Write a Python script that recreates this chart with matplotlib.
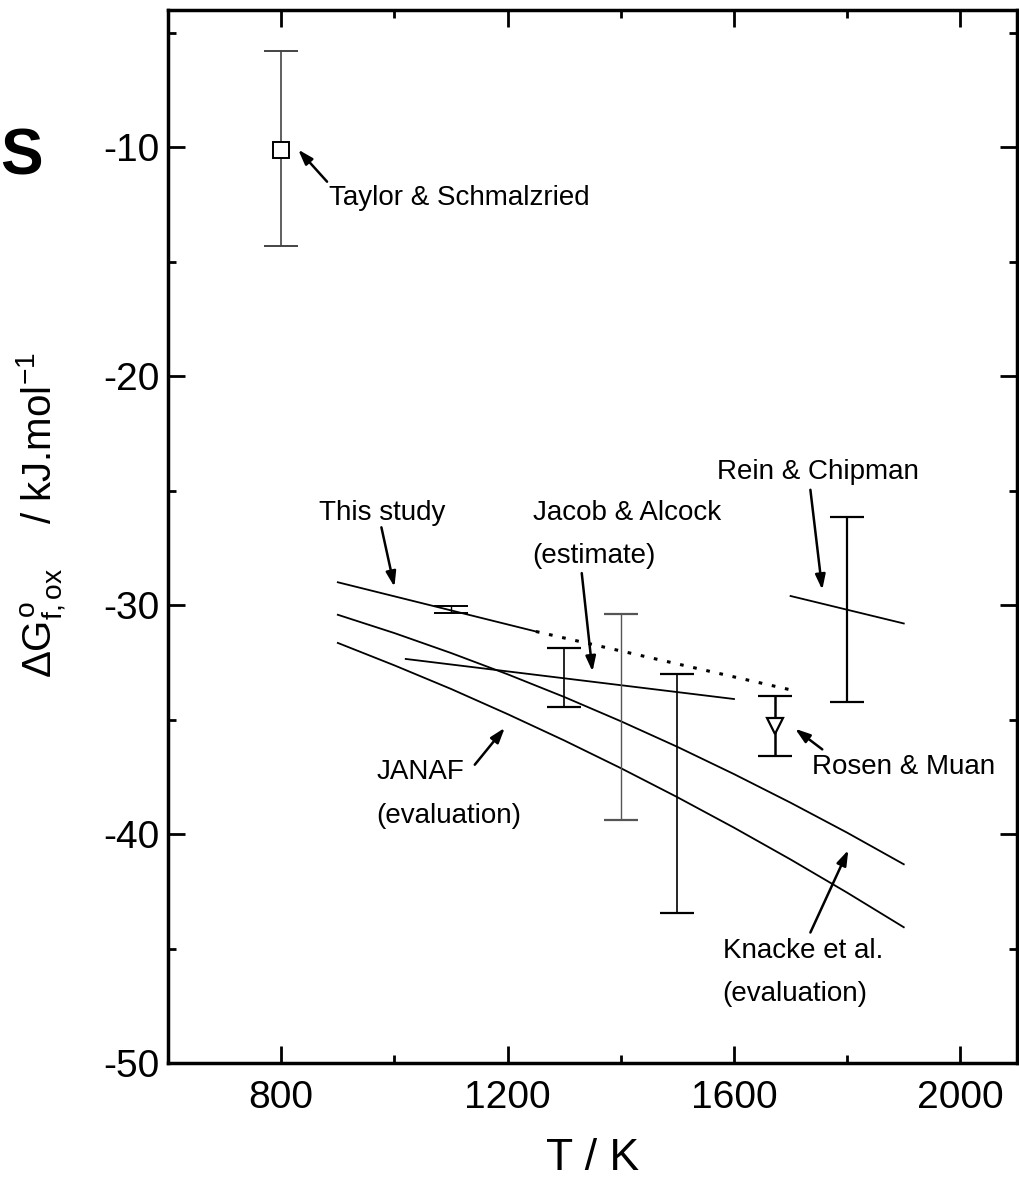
import matplotlib
matplotlib.use("Agg")
import matplotlib.pyplot as plt
from matplotlib.ticker import MultipleLocator

plt.rcParams['font.family'] = ['Liberation Sans', 'DejaVu Sans']
plt.rcParams['axes.unicode_minus'] = False
plt.rcParams['mathtext.fontset'] = 'custom'
plt.rcParams['mathtext.rm'] = 'Liberation Sans'
plt.rcParams['mathtext.it'] = 'Liberation Sans'
plt.rcParams['mathtext.bf'] = 'Liberation Sans:bold'

# ---- data ----
T_grid = [900, 1000, 1100, 1200, 1300, 1400, 1500, 1600, 1700, 1800, 1900]
knacke_G = [-30.42, -31.22, -32.09, -33.02, -34.01, -35.07, -36.19, -37.38, -38.63, -39.94, -41.32]
janaf_G = [-31.65, -32.63, -33.66, -34.76, -35.91, -37.12, -38.39, -39.72, -41.11, -42.56, -44.07]

study_solid_T = [900, 1250]
study_solid_G = [-29.0, -31.15]
study_dotted_T = [1250, 1700]
study_dotted_G = [-31.15, -33.7]
study_err_T = [1100]
study_err_G = [-30.2]
study_err_lo = [0.15]
study_err_hi = [0.15]

jacob_T = [1020, 1600]
jacob_G = [-32.35, -34.1]

bars_T = [1300, 1500]
bars_G = [-33.15, -38.2]
bars_lo = [1.3, 5.25]
bars_hi = [1.3, 5.2]

grey_bar_T = [1400]
grey_bar_G = [-34.9]
grey_bar_lo = [4.5]
grey_bar_hi = [4.5]

rein_T = [1700, 1900]
rein_G = [-29.6, -30.8]
rein_bar_T = [1800]
rein_bar_G = [-30.2]
rein_bar_lo = [4.05]
rein_bar_hi = [4.05]

rosen_T = [1673]
rosen_G = [-35.3]
rosen_lo = [1.3]
rosen_hi = [1.35]

taylor_T = [800]
taylor_G = [-10.1]
taylor_lo = [4.2]
taylor_hi = [4.3]

xticks = [800, 1200, 1600, 2000]
yticks = [-10, -20, -30, -40, -50]

# annotations: label lines, text anchor (T, G), arrow tail, arrow tip
ann_labels = [["Taylor & Schmalzried"], ["This study"], ["Jacob & Alcock", "(estimate)"],
              ["Rein & Chipman"], ["Rosen & Muan"], ["JANAF", "(evaluation)"],
              ["Knacke et al.", "(evaluation)"]]
ann_text_T = [885, 867, 1244, 1570, 1738, 968, 1580]
ann_text_G = [-12.2, -25.97, -25.97, -24.2, -37.06, -37.3, -45.1]
ann_tail_T = [881, 977, 1331, 1735, 1756, 1142, 1735]
ann_tail_G = [-11.5, -26.6, -28.6, -24.96, -36.3, -36.97, -44.3]
ann_tip_T = [830, 1000, 1350, 1756, 1708, 1195, 1802]
ann_tip_G = [-10.1, -29.2, -32.9, -29.33, -35.4, -35.36, -40.7]

# ---- figure ----
fig = plt.figure(figsize=(10.19, 11.91), dpi=100)
ax = fig.add_axes([0.1649, 0.1075, 0.998 - 0.1649, 0.9916 - 0.1075])

lw = 1.3
ax.plot(T_grid, knacke_G, color='black', lw=lw)
ax.plot(T_grid, janaf_G, color='black', lw=lw)
ax.plot(study_solid_T, study_solid_G, color='black', lw=lw)
ax.plot(study_dotted_T, study_dotted_G, color='black', lw=2.2, ls=(0, (1.2, 3.2)))
ax.errorbar(study_err_T, study_err_G, yerr=[study_err_lo, study_err_hi], fmt='none',
            ecolor='black', elinewidth=1.0, capsize=12, capthick=1.4)
ax.plot(jacob_T, jacob_G, color='black', lw=lw)
ax.errorbar(bars_T, bars_G, yerr=[bars_lo, bars_hi], fmt='none', ecolor='black',
            elinewidth=1.2, capsize=12, capthick=1.6)
ax.errorbar(grey_bar_T, grey_bar_G, yerr=[grey_bar_lo, grey_bar_hi], fmt='none',
            ecolor='#555555', elinewidth=1.0, capsize=12, capthick=1.6)
ax.plot(rein_T, rein_G, color='black', lw=lw)
ax.errorbar(rein_bar_T, rein_bar_G, yerr=[rein_bar_lo, rein_bar_hi], fmt='none',
            ecolor='black', elinewidth=1.6, capsize=12, capthick=1.6)
ax.errorbar(rosen_T, rosen_G, yerr=[rosen_lo, rosen_hi], fmt='v', ms=12,
            mfc='white', mec='black', mew=1.6, ecolor='black', elinewidth=1.8,
            capsize=12, capthick=1.8)
ax.errorbar(taylor_T, taylor_G, yerr=[taylor_lo, taylor_hi], fmt='s', ms=11,
            mfc='white', mec='black', mew=1.4, ecolor='#444444', elinewidth=1.2,
            capsize=12, capthick=1.6)

fs_ann = 20
for lines, tx, ty, ax0, ay0, ax1, ay1 in zip(ann_labels, ann_text_T, ann_text_G,
                                            ann_tail_T, ann_tail_G, ann_tip_T, ann_tip_G):
    for i, line in enumerate(lines):
        ax.text(tx, ty - i * 1.9, line, fontsize=fs_ann, ha='left', va='center')
    ax.annotate('', xy=(ax1, ay1), xytext=(ax0, ay0),
                arrowprops=dict(arrowstyle='-|>,head_length=0.9,head_width=0.3',
                                color='black', lw=1.8, shrinkA=0, shrinkB=0))

ax.set_xlim(600, 2100)
ax.set_ylim(-50, -4)
ax.set_xticks(xticks)
ax.set_yticks(yticks)
ax.xaxis.set_minor_locator(MultipleLocator(200))
ax.yaxis.set_minor_locator(MultipleLocator(5))
ax.tick_params(which='both', direction='in', top=True, right=True)
ax.tick_params(which='major', length=12, width=2.0, labelsize=28)
ax.tick_params(axis='x', which='major', pad=12)
ax.tick_params(axis='y', which='major', pad=6)
ax.tick_params(which='minor', length=6, width=2.0)
for s in ax.spines.values():
    s.set_linewidth(2.5)

ax.set_xlabel('T / K', fontsize=32, labelpad=16)
ax.set_ylabel(r'$\Delta G^{\mathrm{o}}_{\mathrm{f,ox}}$    / kJ.mol$^{\mathrm{-1}}$',
              fontsize=29)
ax.yaxis.set_label_coords(-0.118, 0.52)

fig.text(0.021, 0.868, 'S', fontsize=46, fontfamily='Liberation Sans', fontweight='bold',
         fontstyle='normal', ha='center', va='center')

fig.savefig('out.png', dpi=100)
